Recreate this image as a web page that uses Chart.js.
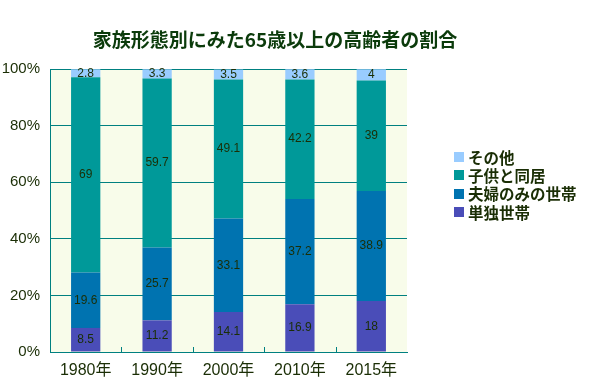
<!DOCTYPE html>
<html><head><meta charset="utf-8">
<script src="https://cdn.jsdelivr.net/npm/chart.js@4/dist/chart.umd.min.js"></script>
<style>html,body{margin:0;padding:0;background:#fff}#w{width:590px;height:382px}</style>
</head><body><div id="w"><canvas id="c" width="590" height="382"></canvas></div>
<script>
const categories = ['1980年','1990年','2000年','2010年','2015年'];
const single = [8.5, 11.2, 14.1, 16.9, 18];
const couple = [19.6, 25.7, 33.1, 37.2, 38.9];
const withChild = [69, 59.7, 49.1, 42.2, 39];
const other = [2.8, 3.3, 3.5, 3.6, 4];
const yTicks = [0, 20, 40, 60, 80, 100];
const titleText = '家族形態別にみた65歳以上の高齢者の割合';

const TXT = '#1a2e05';
const FONT = '"Liberation Sans", "Noto Sans CJK JP", sans-serif';

const bgPlugin = {
  id: 'bg',
  beforeDraw(chart) {
    const {ctx, chartArea: a} = chart;
    ctx.save();
    ctx.fillStyle = '#F8FCEA';
    ctx.fillRect(a.left, a.top, a.right - a.left, a.bottom - a.top);
    ctx.restore();
  }
};

const extras = {
  id: 'extras',
  afterDatasetsDraw(chart) {
    const {ctx, chartArea: a} = chart;
    ctx.save();
    ctx.fillStyle = TXT;
    ctx.font = '12px ' + FONT;
    ctx.textAlign = 'center';
    ctx.textBaseline = 'middle';
    chart.data.datasets.forEach((ds, i) => {
      const meta = chart.getDatasetMeta(i);
      meta.data.forEach((el, j) => {
        const y = (el.y + el.base) / 2;
        ctx.fillText(String(ds.data[j]), el.x, y);
      });
    });
    const xs = chart.scales.x;
    ctx.strokeStyle = '#008080';
    ctx.lineWidth = 1;
    for (let j = 1; j < categories.length; j++) {
      const x = Math.round((xs.getPixelForValue(j - 1) + xs.getPixelForValue(j)) / 2) + 0.5;
      ctx.beginPath();
      ctx.moveTo(x, a.bottom);
      ctx.lineTo(x, a.bottom - 5);
      ctx.stroke();
    }
    ctx.restore();
  },
  afterDraw(chart) {
    const {ctx} = chart;
    ctx.save();
    ctx.fillStyle = '#0b3b0b';
    ctx.font = 'bold 19px "Noto Sans CJK JP", sans-serif';
    ctx.textAlign = 'center';
    ctx.textBaseline = 'middle';
    ctx.fillText(titleText, 275, 40);
    ctx.font = 'bold 15.5px "Noto Sans CJK JP", sans-serif';
    ctx.textAlign = 'left';
    const ds = chart.data.datasets.slice().reverse();
    ds.forEach((d, k) => {
      const cy = 157 + k * 18.3;
      ctx.fillStyle = d.backgroundColor;
      ctx.fillRect(454, Math.round(cy - 5), 10, 10);
      ctx.fillStyle = TXT;
      ctx.fillText(d.label, 468, cy + 1);
    });
    ctx.restore();
  }
};

new Chart(document.getElementById('c'), {
  type: 'bar',
  data: {
    labels: categories,
    datasets: [
      {label: '単独世帯', data: single, backgroundColor: '#4A4DB8'},
      {label: '夫婦のみの世帯', data: couple, backgroundColor: '#0073B0'},
      {label: '子供と同居', data: withChild, backgroundColor: '#009999'},
      {label: 'その他', data: other, backgroundColor: '#99CCFF'}
    ]
  },
  options: {
    responsive: false,
    animation: false,
    devicePixelRatio: 1,
    layout: {padding: {left: 0, right: 183, top: 69, bottom: 0}},
    datasets: {bar: {categoryPercentage: 1, barPercentage: 0.41, borderWidth: 0}},
    plugins: {legend: {display: false}, title: {display: false}, tooltip: {enabled: false}},
    scales: {
      x: {
        stacked: true,
        afterFit(s) { s.height = 30; },
        grid: {display: false, drawTicks: false},
        border: {display: true, color: '#008080', width: 1},
        ticks: {color: TXT, font: {size: 16, family: FONT}, padding: 9}
      },
      y: {
        stacked: true,
        min: 0, max: 100,
        afterFit(s) { s.width = 50; },
        afterBuildTicks(s) { s.ticks = yTicks.map(v => ({value: v})); },
        grid: {color: '#008080', drawTicks: false, lineWidth: 1},
        border: {display: true, color: '#008080', width: 1},
        ticks: {color: TXT, font: {size: 15, family: FONT}, padding: 10, callback: v => v + '%'}
      }
    }
  },
  plugins: [bgPlugin, extras]
});
</script>
</body></html>
